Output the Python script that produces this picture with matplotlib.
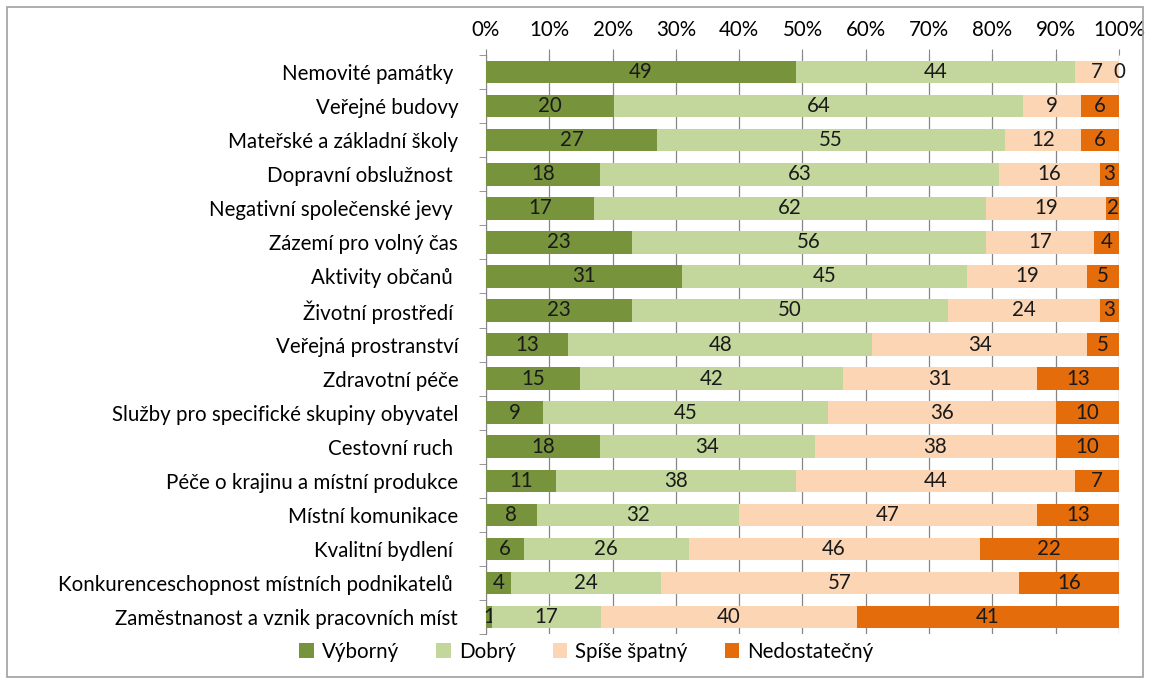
import numpy as np
import matplotlib
matplotlib.use('Agg')
from matplotlib import pyplot as plt
from matplotlib.patches import Rectangle, Patch

plt.rcParams['font.family'] = ['Lato', 'DejaVu Sans']

# data
categories = ['Nemovité památky ', 'Veřejné budovy', 'Mateřské a základní školy',
              'Dopravní obslužnost ', 'Negativní společenské jevy ', 'Zázemí pro volný čas',
              'Aktivity občanů ', 'Životní prostředí ', 'Veřejná prostranství',
              'Zdravotní péče', 'Služby pro specifické skupiny obyvatel', 'Cestovní ruch ',
              'Péče o krajinu a místní produkce', 'Místní komunikace', 'Kvalitní bydlení ',
              'Konkurenceschopnost místních podnikatelů ', 'Zaměstnanost a vznik pracovních míst']
vyborny = [49, 20, 27, 18, 17, 23, 31, 23, 13, 15, 9, 18, 11, 8, 6, 4, 1]
dobry = [44, 64, 55, 63, 62, 56, 45, 50, 48, 42, 45, 34, 38, 32, 26, 24, 17]
spise_spatny = [7, 9, 12, 16, 19, 17, 19, 24, 34, 31, 36, 38, 44, 47, 46, 57, 40]
nedostatecny = [0, 6, 6, 3, 2, 4, 5, 3, 5, 13, 10, 10, 7, 13, 22, 16, 41]
series_names = ['Výborný', 'Dobrý', 'Spíše špatný', 'Nedostatečný']
colors = ['#77933C', '#C3D69B', '#FCD5B5', '#E46C0A']
xticks = [0, 0.1, 0.2, 0.3, 0.4, 0.5, 0.6, 0.7, 0.8, 0.9, 1.0]

data = np.array([vyborny, dobry, spise_spatny, nedostatecny], dtype=float)
shares = data / data.sum(axis=0)  # 100% stacked

FS = 14.8

fig = plt.figure(figsize=(11.5, 6.8), dpi=100)
ax = fig.add_axes([0.4226, 0.0676, 0.9730 - 0.4226, 0.919 - 0.0676])

y = np.arange(len(categories))
left = np.zeros(len(categories))
for i in range(4):
    bars = ax.barh(y, shares[i], left=left, height=0.66, color=colors[i],
                   label=series_names[i], zorder=3)
    ax.bar_label(bars, labels=[str(v) for v in data[i].astype(int)],
                 label_type='center', fontsize=FS, color='#1a1a1a')
    left += shares[i]

ax.set_ylim(len(categories) - 0.5, -0.5)
ax.set_xlim(0, 1)
ax.set_yticks(y)
ax.set_yticklabels(categories, fontsize=FS)
ax.set_yticks(np.arange(len(categories) + 1) - 0.5, minor=True)
ax.tick_params(axis='y', which='major', length=0, pad=20)
ax.tick_params(axis='y', which='minor', length=5, color='#868686')

ax.xaxis.tick_top()
ax.set_xticks(xticks)
ax.set_xticklabels([f'{int(round(t * 100))}%' for t in xticks], fontsize=FS)
ax.tick_params(axis='x', length=4, color='#868686', pad=7)
ax.grid(axis='x', color='#868686', linewidth=0.9, zorder=0)

for s in ['top', 'right', 'bottom']:
    ax.spines[s].set_visible(False)
ax.spines['left'].set_color('#868686')

handles = [Patch(facecolor=c) for c in colors]
fig.legend(handles, series_names, loc='lower center', bbox_to_anchor=(0.51, 0.0),
           ncol=4, frameon=False, fontsize=FS, handlelength=0.7, handleheight=0.7,
           handletextpad=0.4, columnspacing=1.8)

fig.patches.append(Rectangle((0.006, 0.004), 0.988, 0.985, transform=fig.transFigure,
                             fill=False, edgecolor='#a0a0a0', linewidth=1.2))

plt.savefig('out.png', dpi=100)
